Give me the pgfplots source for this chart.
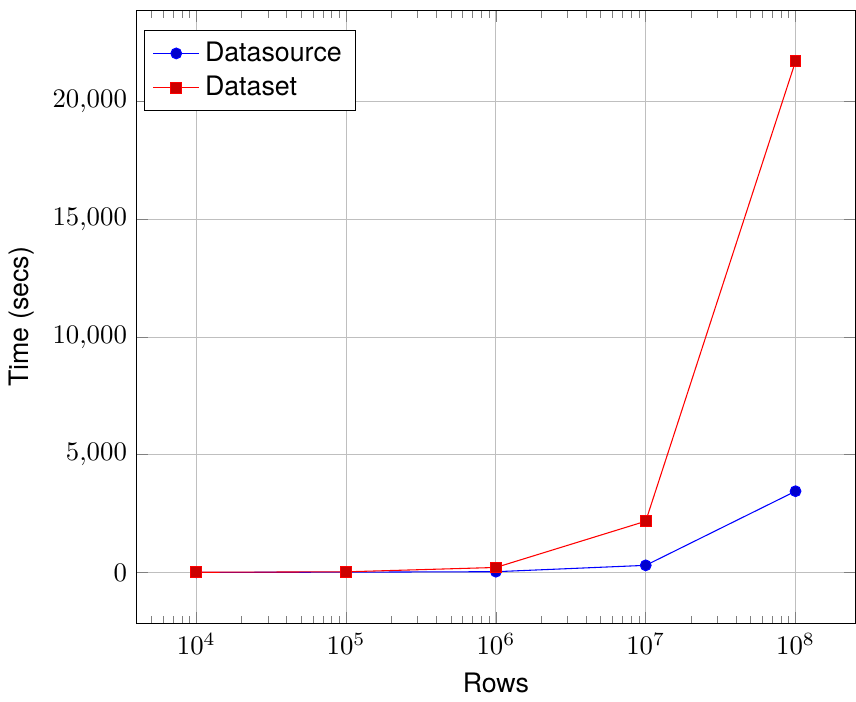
\documentclass[border=0pt]{standalone}
\usepackage{pgfplots}
\pgfplotsset{compat=1.18}
\usepackage{fontspec}
\setmainfont{TeX Gyre Heros}
\begin{document}
\begin{tikzpicture}
\begin{semilogxaxis}[
    scale only axis,
    width=268.5pt,
    height=229pt,
    xlabel={Rows},
    ylabel={Time (secs)},
    grid=major,
    ytick={0,5000,10000,15000,20000},
    scaled y ticks=false,
    legend cell align=left,
    legend style={at={(0.011,0.967)}, anchor=north west},
]
\addplot coordinates {
    (1e4, 2)
    (1e5, 10)
    (1e6, 30)
    (1e7, 300)
    (1e8, 3450)
};
\addlegendentry{Datasource}
\addplot coordinates {
    (1e4, 5)
    (1e5, 25)
    (1e6, 210)
    (1e7, 2175)
    (1e8, 21720)
};
\addlegendentry{Dataset}
\end{semilogxaxis}
% a little room above the axis, as in the reference
\path ([yshift=3.8pt]current axis.north);
\end{tikzpicture}
\end{document}
